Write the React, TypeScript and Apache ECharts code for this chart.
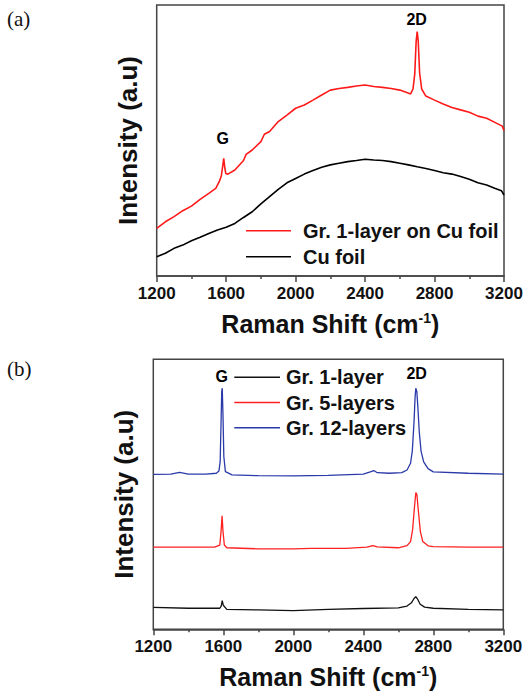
import React, { useEffect, useRef } from "react";
import * as echarts from "echarts";

// ---------- data ----------
const X_MIN = 1200;
const X_MAX = 3200;
const X_STEP = 400;

// Panel (a)
const grOnCuFoil: [number, number][] = [
  [1200, 17.6], [1250, 20.0], [1300, 21.9], [1350, 24.1], [1400, 25.8], [1450, 28.3],
  [1500, 30.5], [1540, 32.3], [1560, 34.8], [1572, 36.9], [1580, 40.5], [1586, 43.4],
  [1592, 40.0], [1598, 37.8], [1610, 37.6], [1650, 39.1], [1700, 42.6], [1715, 44.9],
  [1750, 46.5], [1800, 49.6], [1820, 52.3], [1850, 53.3], [1900, 57.0], [1950, 59.4],
  [2000, 61.9], [2050, 63.1], [2100, 64.9], [2150, 66.8], [2200, 68.6], [2250, 69.2],
  [2300, 69.6], [2350, 70.1], [2400, 70.5], [2450, 69.9], [2500, 69.6], [2550, 69.2],
  [2600, 68.6], [2640, 67.7], [2662, 67.2], [2676, 69.0], [2686, 74.5], [2694, 86.5],
  [2700, 90.2], [2706, 86.8], [2714, 75.0], [2726, 69.0], [2750, 66.4], [2800, 64.9],
  [2850, 63.5], [2900, 62.2], [2950, 61.3], [3000, 60.4], [3050, 59.0], [3100, 58.2],
  [3150, 56.6], [3190, 55.3], [3200, 53.6],
];
const cuFoil: [number, number][] = [
  [1200, 7.1], [1250, 8.4], [1300, 10.2], [1350, 11.4], [1400, 13.0], [1450, 14.3],
  [1500, 15.7], [1550, 17.0], [1600, 18.0], [1650, 19.4], [1700, 21.6], [1750, 23.7],
  [1800, 26.6], [1850, 29.3], [1900, 32.0], [1950, 34.4], [2000, 36.0], [2050, 37.6],
  [2100, 38.9], [2150, 40.1], [2200, 41.0], [2250, 41.6], [2300, 42.2], [2350, 42.6],
  [2400, 43.1], [2450, 42.8], [2500, 42.6], [2550, 42.2], [2600, 41.6], [2650, 41.0],
  [2700, 40.3], [2750, 39.7], [2800, 38.9], [2850, 38.1], [2900, 37.6], [2950, 36.7],
  [3000, 35.7], [3050, 34.4], [3100, 33.6], [3150, 32.3], [3185, 31.5], [3200, 29.9],
];

// Panel (b)
const gr1Layer: [number, number][] = [
  [1200, 8.1], [1400, 7.8], [1580, 7.8], [1588, 8.6], [1594, 10.6], [1600, 8.9],
  [1620, 7.4], [1800, 7.2], [2000, 6.9], [2200, 7.4], [2400, 7.7], [2600, 7.9],
  [2650, 8.6], [2675, 9.8], [2690, 11.4], [2700, 12.1], [2710, 11.2], [2725, 9.3],
  [2750, 8.2], [2800, 7.8], [3000, 7.4], [3200, 7.2],
];
const gr5Layers: [number, number][] = [
  [1200, 30.4], [1400, 30.4], [1550, 30.4], [1580, 31.2], [1587, 36.0], [1593, 42.0],
  [1598, 36.5], [1606, 31.2], [1620, 30.2], [1800, 29.8], [2000, 29.8], [2100, 30.0],
  [2300, 30.0], [2420, 30.4], [2455, 31.0], [2480, 30.5], [2600, 30.2], [2650, 31.0],
  [2670, 32.5], [2682, 37.0], [2692, 45.0], [2700, 50.6], [2706, 50.0], [2716, 43.0],
  [2726, 36.2], [2740, 32.5], [2770, 30.9], [2800, 30.6], [3000, 30.4], [3200, 30.4],
];
const gr12Layers: [number, number][] = [
  [1200, 57.4], [1300, 57.5], [1350, 58.1], [1400, 57.5], [1500, 57.5], [1560, 57.8],
  [1575, 58.6], [1582, 62.0], [1587, 76.0], [1591, 88.0], [1594, 89.3], [1598, 80.0],
  [1603, 64.0], [1612, 58.4], [1650, 57.2], [1800, 56.9], [2000, 56.8], [2200, 57.0],
  [2400, 57.5], [2440, 58.3], [2460, 58.8], [2480, 58.0], [2550, 57.8], [2620, 58.0],
  [2650, 59.0], [2670, 61.5], [2680, 66.0], [2690, 77.0], [2696, 86.0], [2700, 89.3],
  [2706, 88.0], [2712, 82.0], [2720, 73.0], [2730, 66.0], [2745, 62.0], [2770, 59.5],
  [2800, 58.3], [3000, 57.8], [3200, 57.5],
];

// peak labels
const peakLabelsA: [number, number, string][] = [
  [1580, 50.8, "G"],
  [2697, 94.8, "2D"],
];
const peakLabelsB: [number, number, string][] = [
  [1591, 93.8, "G"],
  [2705, 94.8, "2D"],
];

const SANS = "Liberation Sans";
const SERIF = "Liberation Serif";
const FRAME = "#444";
const INK = "#111";

function xAxisFor(gridIndex: number) {
  return {
    type: "value",
    gridIndex,
    min: X_MIN,
    max: X_MAX,
    interval: X_STEP,
    name: "{t|Raman Shift (cm}{s|-1}{t|)}",
    nameLocation: "middle",
    nameGap: 35,
    nameTextStyle: {
      rich: {
        t: { fontSize: 25, fontWeight: "bold", fontFamily: SANS, color: INK },
        s: { fontSize: 14, fontWeight: "bold", fontFamily: SANS, color: INK, verticalAlign: "top" },
      },
    },
    axisLine: { show: true, lineStyle: { color: FRAME, width: 1.5 } },
    axisTick: { show: true, inside: false, length: 6, lineStyle: { color: FRAME, width: 1.5 } },
    minorTick: { show: true, splitNumber: 2, length: 3, lineStyle: { color: FRAME, width: 1.5 } },
    axisLabel: {
      show: true,
      margin: 9,
      fontSize: 17,
      fontWeight: "bold",
      fontFamily: SANS,
      color: INK,
      formatter: (v: number) => String(v),
    },
    splitLine: { show: false },
    minorSplitLine: { show: false },
  };
}

function yAxisFor(gridIndex: number) {
  return {
    type: "value",
    gridIndex,
    min: 0,
    max: 100,
    name: "Intensity (a.u)",
    nameLocation: "middle",
    nameGap: 16,
    nameRotate: 90,
    nameTextStyle: { fontSize: 26, fontWeight: "bold", fontFamily: SANS, color: INK },
    axisLine: { show: false },
    axisTick: { show: false },
    axisLabel: { show: false },
    splitLine: { show: false },
  };
}

function lineSeries(name: string, data: [number, number][], color: string, idx: number, width = 1.4) {
  return {
    type: "line",
    name,
    data,
    xAxisIndex: idx,
    yAxisIndex: idx,
    showSymbol: false,
    symbol: "none",
    lineStyle: { color, width },
    itemStyle: { color },
    silent: true,
  };
}

function labelSeries(data: [number, number, string][], idx: number) {
  return {
    type: "scatter",
    name: "peaks" + idx,
    data,
    xAxisIndex: idx,
    yAxisIndex: idx,
    symbolSize: 0,
    itemStyle: { color: "#000", opacity: 1 },
    silent: true,
    label: {
      show: true,
      position: "inside",
      formatter: (p: any) => p.value[2],
      fontSize: 16,
      fontWeight: "bold",
      fontFamily: SANS,
      color: "#000",
    },
  };
}

const legendText = (pad: number) => ({
  fontSize: 20,
  lineHeight: 20,
  fontWeight: "bold",
  fontFamily: SANS,
  color: INK,
  padding: [0, 0, 0, pad],
});

export default function App() {
  const ref = useRef<HTMLDivElement>(null);

  useEffect(() => {
    document.body.style.margin = "0";
    if (!ref.current) return;
    const chart = echarts.init(ref.current, undefined, { renderer: "svg" });
    chart.setOption({
      animation: false,
      backgroundColor: "#fff",
      grid: [
        { left: 156.7, top: 5, width: 347.3, height: 271, show: true, borderColor: FRAME, borderWidth: 1.5, backgroundColor: "transparent" },
        { left: 153.3, top: 359.3, width: 350, height: 270, show: true, borderColor: FRAME, borderWidth: 1.5, backgroundColor: "transparent" },
      ],
      xAxis: [xAxisFor(0), xAxisFor(1)],
      yAxis: [yAxisFor(0), yAxisFor(1)],
      legend: [
        {
          data: ["Gr. 1-layer on Cu foil", "Cu foil"],
          orient: "vertical",
          left: 246,
          top: 220.7,
          padding: 0,
          icon: "rect",
          itemWidth: 45,
          itemHeight: 1.6,
          itemGap: 6,
          selectedMode: false,
          textStyle: legendText(7),
        },
        {
          data: ["Gr. 1-layer", "Gr. 5-layers", "Gr. 12-layers"],
          orient: "vertical",
          left: 234.3,
          top: 367.3,
          padding: 0,
          icon: "rect",
          itemWidth: 45.7,
          itemHeight: 1.6,
          itemGap: 5.2,
          selectedMode: false,
          textStyle: legendText(1),
        },
      ],
      graphic: [
        { type: "text", left: 7, top: 8, style: { text: "(a)", fontSize: 21, fontFamily: SERIF, fill: INK } },
        { type: "text", left: 7, top: 358, style: { text: "(b)", fontSize: 21, fontFamily: SERIF, fill: INK } },
      ],
      series: [
        lineSeries("Cu foil", cuFoil, "#000000", 0, 1.6),
        lineSeries("Gr. 1-layer on Cu foil", grOnCuFoil, "#ff1a1a", 0, 1.6),
        labelSeries(peakLabelsA, 0),
        lineSeries("Gr. 1-layer", gr1Layer, "#111111", 1, 1.3),
        lineSeries("Gr. 5-layers", gr5Layers, "#ff2020", 1, 1.3),
        lineSeries("Gr. 12-layers", gr12Layers, "#2a3aa8", 1, 1.3),
        labelSeries(peakLabelsB, 1),
      ],
    });
    return () => chart.dispose();
  }, []);

  return <div ref={ref} style={{ width: 527, height: 696 }} />;
}
